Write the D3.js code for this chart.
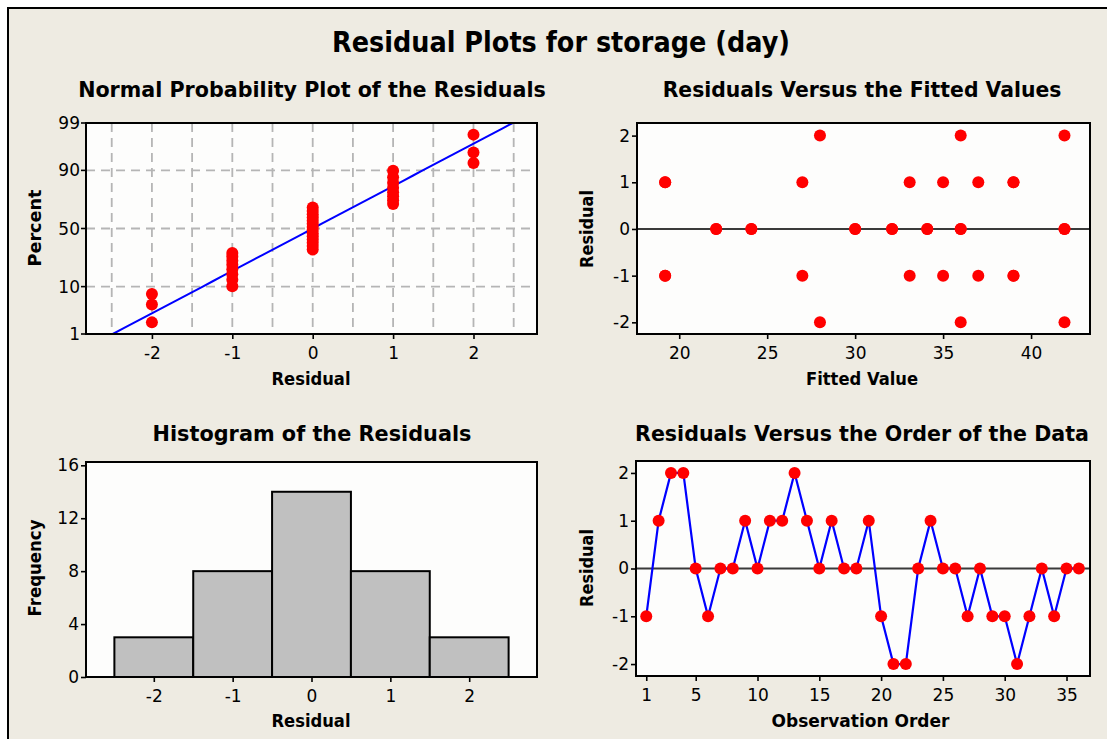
<!DOCTYPE html>
<html>
<head>
<meta charset="utf-8">
<script src="https://cdn.jsdelivr.net/npm/d3@7/dist/d3.min.js"></script>
<style>
  html, body { margin: 0; padding: 0; background: #ffffff; }
  svg { display: block; }
  text { font-family: "DejaVu Sans", Verdana, sans-serif; fill: #000; }
</style>
</head>
<body>
<svg id="chart" width="1107" height="739"></svg>
<script>
// Residuals of storage (day), in observation order
const residuals = [-1, 1, 2, 2, 0, -1, 0, 0, 1, 0, 1, 1, 2, 1, 0, 1, 0, 0,
                   1, -1, -2, -2, 0, 1, 0, 0, -1, 0, -1, -1, -2, -1, 0, -1, 0, 0];
// Fitted value of each observation (same order)
const fitted = [19.2, 19.2, 28, 36, 22.1, 19.2, 22.1, 24.1, 19.2, 24.1, 27, 33.1, 41.9, 35, 30, 37, 30, 32.1,
                39, 27, 28, 36, 32.1, 39, 34.1, 34.1, 33.1, 36, 35, 37, 41.9, 39, 36, 39, 41.9, 41.9];

// Tick values
const percentTicks = [1, 10, 50, 90, 99];
const percentGrid = [10, 50, 90];
const nppResidualTicks = [-2, -1, 0, 1, 2];
const nppResidualGrid = [-2.5, -2, -1.5, -1, -0.5, 0, 0.5, 1, 1.5, 2, 2.5];
const fittedTicks = [20, 25, 30, 35, 40];
const residualTicks = [-2, -1, 0, 1, 2];
const freqTicks = [0, 4, 8, 12, 16];
const histBinCenters = [-2, -1, 0, 1, 2];
const orderTicks = [1, 5, 10, 15, 20, 25, 30, 35];

// Inverse standard normal CDF (Acklam's rational approximation)
function qnorm(p) {
  const a = [-3.969683028665376e+01, 2.209460984245205e+02, -2.759285104469687e+02,
             1.383577518672690e+02, -3.066479806614716e+01, 2.506628277459239e+00];
  const b = [-5.447609879822406e+01, 1.615858368580409e+02, -1.556989798598866e+02,
             6.680131188771972e+01, -1.328068155288572e+01];
  const c = [-7.784894002430293e-03, -3.223964580411365e-01, -2.400758277161838e+00,
             -2.549732539343734e+00, 4.374664141464968e+00, 2.938163982698783e+00];
  const d = [7.784695709041462e-03, 3.224671290700398e-01, 2.445134137142996e+00,
             3.754408661907416e+00];
  const pl = 0.02425, ph = 1 - pl;
  let q, r;
  if (p < pl) {
    q = Math.sqrt(-2 * Math.log(p));
    return (((((c[0]*q+c[1])*q+c[2])*q+c[3])*q+c[4])*q+c[5]) / ((((d[0]*q+d[1])*q+d[2])*q+d[3])*q+1);
  }
  if (p <= ph) {
    q = p - 0.5; r = q * q;
    return (((((a[0]*r+a[1])*r+a[2])*r+a[3])*r+a[4])*r+a[5])*q / (((((b[0]*r+b[1])*r+b[2])*r+b[3])*r+b[4])*r+1);
  }
  q = Math.sqrt(-2 * Math.log(1 - p));
  return -(((((c[0]*q+c[1])*q+c[2])*q+c[3])*q+c[4])*q+c[5]) / ((((d[0]*q+d[1])*q+d[2])*q+d[3])*q+1);
}

const svg = d3.select("#chart");
const BG = "#eeebe2";
const RED = "#ff0000", BLUE = "#0000ff";

// Page frame
svg.append("rect").attr("x", 8).attr("y", 8).attr("width", 1120).attr("height", 760)
  .attr("fill", BG).attr("stroke", "#000").attr("stroke-width", 2);

// Text helper: optionally narrows the string horizontally to a given width
function label(parent, str, x, y, opts) {
  const o = Object.assign({size: 16, weight: "normal", anchor: "middle", rotate: 0, width: null}, opts);
  const t = parent.append("text")
    .attr("x", 0).attr("y", 0)
    .attr("font-size", o.size).attr("font-weight", o.weight)
    .attr("text-anchor", o.anchor)
    .text(str);
  let sx = 1;
  if (o.width) {
    const w = t.node().getComputedTextLength();
    if (w > 0) sx = o.width / w;
  }
  t.attr("transform", `translate(${x},${y}) rotate(${o.rotate}) scale(${sx},1)`);
  return t;
}

label(svg, "Residual Plots for storage (day)", 561, 51.5, {size: 29, weight: "bold", width: 458});

// Draws plot background and ticks for one panel
function panel(box, xScale, yScale, xTicks, yTicks, xFmt, yFmt) {
  const g = svg.append("g");
  g.append("rect").attr("x", box.x0).attr("y", box.y0)
    .attr("width", box.x1 - box.x0).attr("height", box.y1 - box.y0)
    .attr("fill", "#fdfdfc");
  const xAxis = d3.axisBottom(xScale).tickValues(xTicks).tickSize(5).tickPadding(4).tickFormat(xFmt || d3.format("d"));
  const yAxis = d3.axisLeft(yScale).tickValues(yTicks).tickSize(5).tickPadding(2).tickFormat(yFmt || d3.format("d"));
  const gx = g.append("g").attr("transform", `translate(0,${box.y1})`).call(xAxis);
  const gy = g.append("g").attr("transform", `translate(${box.x0},0)`).call(yAxis);
  [gx, gy].forEach(a => {
    a.select(".domain").remove();
    a.selectAll(".tick line").attr("stroke", "#000").attr("stroke-width", 1.6);
    a.selectAll(".tick text").attr("font-size", 17).attr("fill", "#000")
      .style("font-family", '"DejaVu Sans", Verdana, sans-serif');
  });
  gx.selectAll(".tick text").attr("dy", "0.95em");
  g.box = box;
  return g;
}
function frame(g) {
  const b = g.box;
  g.append("rect").attr("x", b.x0).attr("y", b.y0)
    .attr("width", b.x1 - b.x0).attr("height", b.y1 - b.y0)
    .attr("fill", "none").attr("stroke", "#000").attr("stroke-width", 2);
}
const fmtMinus = d => String(d).replace("\u2212", "-");

// ---------- Normal probability plot ----------
{
  const box = {x0: 86, x1: 537, y0: 123, y1: 334};
  const x = d3.scaleLinear().domain([-2.82, 2.79]).range([box.x0, box.x1]);
  const z = d3.scaleLinear().domain([qnorm(0.01), qnorm(0.99)]).range([box.y1, box.y0]);
  const y = p => z(qnorm(p / 100));
  const g = svg.append("g");
  g.append("rect").attr("x", box.x0).attr("y", box.y0).attr("width", box.x1 - box.x0)
    .attr("height", box.y1 - box.y0).attr("fill", "#fdfdfc");
  // grid
  g.selectAll(".vg").data(nppResidualGrid).join("line")
    .attr("x1", d => x(d)).attr("x2", d => x(d)).attr("y1", box.y0).attr("y2", box.y1)
    .attr("stroke", "#b5b5b5").attr("stroke-width", 1.8).attr("stroke-dasharray", "9,6");
  g.selectAll(".hg").data(percentGrid).join("line")
    .attr("x1", box.x0).attr("x2", box.x1).attr("y1", d => y(d)).attr("y2", d => y(d))
    .attr("stroke", "#b5b5b5").attr("stroke-width", 1.8).attr("stroke-dasharray", "9,6");
  // fitted normal line
  const n = residuals.length;
  const mean = d3.mean(residuals), sd = d3.deviation(residuals);
  const zs = d3.range(qnorm(0.01), qnorm(0.99) + 1e-9, (qnorm(0.99) - qnorm(0.01)) / 40);
  g.append("path").datum(zs)
    .attr("d", d3.line().x(d => x(mean + sd * d)).y(d => z(d)))
    .attr("fill", "none").attr("stroke", BLUE).attr("stroke-width", 2);
  // points at median ranks
  const sorted = residuals.slice().sort(d3.ascending);
  g.selectAll(".pt").data(sorted).join("circle")
    .attr("cx", d => x(d)).attr("cy", (d, i) => z(qnorm((i + 1 - 0.3) / (n + 0.4))))
    .attr("r", 6).attr("fill", RED);
  // axes
  const xAxis = d3.axisBottom(x).tickValues(nppResidualTicks).tickSize(5).tickPadding(4).tickFormat(d3.format("d"));
  const gx = g.append("g").attr("transform", `translate(0,${box.y1})`).call(xAxis);
  const gy = g.append("g");
  percentTicks.forEach(p => {
    gy.append("line").attr("x1", box.x0 - 5).attr("x2", box.x0).attr("y1", y(p)).attr("y2", y(p))
      .attr("stroke", "#000").attr("stroke-width", 1.6);
    label(gy, String(p), box.x0 - 6, y(p) + 6, {size: 17, anchor: "end"});
  });
  gx.select(".domain").remove();
  gx.selectAll(".tick line").attr("stroke", "#000").attr("stroke-width", 1.6);
  gx.selectAll(".tick text").attr("font-size", 17).attr("fill", "#000").attr("dy", "0.95em")
    .style("font-family", '"DejaVu Sans", Verdana, sans-serif').text(d => fmtMinus(d3.format("d")(d)));
  g.append("rect").attr("x", box.x0).attr("y", box.y0).attr("width", box.x1 - box.x0)
    .attr("height", box.y1 - box.y0).attr("fill", "none").attr("stroke", "#000").attr("stroke-width", 2);
  label(svg, "Normal Probability Plot of the Residuals", 312, 97, {size: 22, weight: "bold", width: 468});
  label(svg, "Residual", 311, 385, {size: 18, weight: "bold", width: 79});
  label(svg, "Percent", 41, 228, {size: 18, weight: "bold", rotate: -90, width: 77});
}

// ---------- Residuals versus fitted values ----------
{
  const box = {x0: 637, x1: 1090, y0: 123, y1: 334};
  const x = d3.scaleLinear().domain([17.6, 43.35]).range([box.x0, box.x1]);
  const y = d3.scaleLinear().domain([-2.25, 2.27]).range([box.y1, box.y0]);
  const g = panel(box, x, y, fittedTicks, residualTicks, null, d => fmtMinus(d3.format("d")(d)));
  g.append("line").attr("x1", box.x0).attr("x2", box.x1).attr("y1", y(0)).attr("y2", y(0))
    .attr("stroke", "#3a3a3a").attr("stroke-width", 2);
  g.selectAll(".pt").data(d3.zip(fitted, residuals)).join("circle")
    .attr("cx", d => x(d[0])).attr("cy", d => y(d[1])).attr("r", 6).attr("fill", RED);
  frame(g);
  label(svg, "Residuals Versus the Fitted Values", 862, 97, {size: 22, weight: "bold", width: 399});
  label(svg, "Fitted Value", 862, 385, {size: 18, weight: "bold", width: 112});
  label(svg, "Residual", 593, 229, {size: 18, weight: "bold", rotate: -90, width: 78});
}

// ---------- Histogram ----------
{
  const box = {x0: 86, x1: 537, y0: 462, y1: 677};
  const x = d3.scaleLinear().domain([-2.86, 2.86]).range([box.x0, box.x1]);
  const y = d3.scaleLinear().domain([0, 16.25]).range([box.y1, box.y0]);
  const g = panel(box, x, y, histBinCenters, freqTicks, d => fmtMinus(d3.format("d")(d)), null);
  const bins = d3.bin().domain([-2.5, 2.5]).thresholds([-1.5, -0.5, 0.5, 1.5])(residuals);
  g.selectAll(".bar").data(bins).join("rect")
    .attr("x", d => x(d.x0)).attr("width", d => x(d.x1) - x(d.x0))
    .attr("y", d => y(d.length)).attr("height", d => y(0) - y(d.length))
    .attr("fill", "#c0c0c0").attr("stroke", "#000").attr("stroke-width", 2);
  frame(g);
  label(svg, "Histogram of the Residuals", 312, 441, {size: 22, weight: "bold", width: 319});
  label(svg, "Residual", 311, 727, {size: 18, weight: "bold", width: 79});
  label(svg, "Frequency", 41, 568, {size: 18, weight: "bold", rotate: -90, width: 97});
}

// ---------- Residuals versus order ----------
{
  const box = {x0: 636, x1: 1090, y0: 461, y1: 676};
  const x = d3.scaleLinear().domain([0.17, 36.9]).range([box.x0, box.x1]);
  const y = d3.scaleLinear().domain([-2.25, 2.25]).range([box.y1, box.y0]);
  const g = panel(box, x, y, orderTicks, residualTicks, null, d => fmtMinus(d3.format("d")(d)));
  g.append("line").attr("x1", box.x0).attr("x2", box.x1).attr("y1", y(0)).attr("y2", y(0))
    .attr("stroke", "#3a3a3a").attr("stroke-width", 2);
  g.append("path").datum(residuals)
    .attr("d", d3.line().x((d, i) => x(i + 1)).y(d => y(d)))
    .attr("fill", "none").attr("stroke", BLUE).attr("stroke-width", 2.2);
  g.selectAll(".pt").data(residuals).join("circle")
    .attr("cx", (d, i) => x(i + 1)).attr("cy", d => y(d)).attr("r", 6).attr("fill", RED);
  frame(g);
  label(svg, "Residuals Versus the Order of the Data", 862, 441, {size: 22, weight: "bold", width: 454});
  label(svg, "Observation Order", 860.5, 727, {size: 18, weight: "bold", width: 178});
  label(svg, "Residual", 593, 568, {size: 18, weight: "bold", rotate: -90, width: 78});
}
</script>
</body>
</html>
